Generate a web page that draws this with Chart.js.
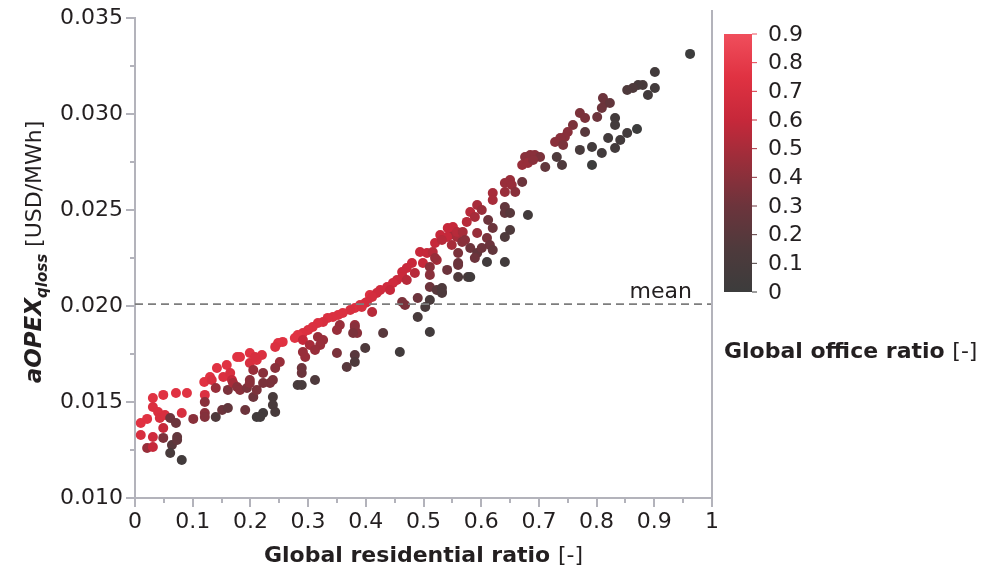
<!DOCTYPE html>
<html>
<head>
<meta charset="utf-8">
<script src="https://cdn.jsdelivr.net/npm/chart.js@4.4.1/dist/chart.umd.min.js"></script>
<style>
html,body{margin:0;padding:0;background:#fff;}
#wrap{width:986px;height:572px;}
</style>
</head>
<body>
<div id="wrap"><canvas id="myChart" width="986" height="572"></canvas></div>
<script>
// data
var residentialRatio = [
 0.010,0.010,0.021,0.021,0.031,0.031,0.031,0.031,0.040,0.043,0.049,0.049,0.052,0.049,0.061,0.064,0.061,0.071,0.071,0.073,
 0.073,0.081,0.081,0.090,0.101,0.121,0.121,0.121,0.121,0.120,0.130,0.133,0.140,0.140,0.142,0.151,0.153,0.159,0.161,0.161,
 0.165,0.168,0.170,0.177,0.182,0.177,0.182,0.191,0.194,0.199,0.199,0.199,0.205,0.211,0.211,
 0.407,0.399,0.390,0.381,0.373,0.360,0.352,0.343,0.334,0.326,0.317,0.308,0.300,0.291,0.282,0.277,0.291,0.256,0.248,0.243,
 0.220,0.208,0.317,0.326,0.321,0.303,0.312,0.291,0.295,0.251,0.243,0.239,0.234,0.222,0.222,0.211,0.205,0.289,0.289,0.282,
 0.289,0.312,0.350,0.367,0.381,0.381,0.399,0.239,0.239,0.243,0.222,0.217,0.199,0.355,0.350,0.381,0.385,
 0.529,0.546,0.558,0.567,0.520,0.494,0.506,0.516,0.523,0.499,0.480,0.471,0.463,0.485,0.464,0.454,0.471,0.447,0.437,0.425,
 0.419,0.411,0.442,0.402,0.393,0.411,0.511,0.511,0.520,0.560,0.560,0.560,0.577,0.541,0.511,0.523,0.532,0.490,0.511,0.503,
 0.468,0.463,0.490,0.511,0.430,0.459,0.381,0.378,
 0.676,0.685,0.693,0.702,0.671,0.681,0.690,0.711,0.731,0.740,0.650,0.641,0.653,0.671,0.659,0.641,0.620,0.620,0.593,0.601,
 0.581,0.589,0.575,0.641,0.641,0.650,0.681,0.612,0.620,0.650,0.641,0.542,0.551,0.541,0.558,0.568,0.532,0.549,0.572,0.593,
 0.610,0.615,0.581,0.593,0.601,0.620,0.589,0.560,0.610,0.641,0.581,0.532,0.532,
 0.962,0.901,0.901,0.889,0.880,0.872,0.863,0.853,0.811,0.815,0.823,0.809,0.801,0.771,0.780,0.832,0.832,0.759,0.750,0.745,
 0.737,0.728,0.742,0.780,0.870,0.853,0.841,0.820,0.832,0.809,0.792,0.771,0.792
];
var opexQloss = [
 0.01391,0.01328,0.01260,0.01412,0.01521,0.01474,0.01318,0.01266,0.01448,0.01417,0.01537,0.01365,0.01432,0.01313,0.01417,0.01276,0.01234,0.01547,0.01391,0.01318,
 0.01302,0.01198,0.01443,0.01547,0.01412,0.01537,0.01500,0.01443,0.01422,0.01604,0.01630,0.01615,0.01573,0.01422,0.01677,0.01458,0.01630,0.01693,0.01563,0.01469,
 0.01651,0.01615,0.01599,0.01734,0.01734,0.01578,0.01563,0.01458,0.01573,0.01755,0.01703,0.01615,0.01526,0.01422,0.01719,
 0.02057,0.02016,0.02005,0.01990,0.01979,0.01964,0.01953,0.01943,0.01938,0.01917,0.01911,0.01891,0.01875,0.01859,0.01849,0.01833,0.01823,0.01813,0.01807,0.01787,
 0.01745,0.01734,0.01839,0.01823,0.01797,0.01797,0.01771,0.01760,0.01734,0.01708,0.01677,0.01615,0.01599,0.01651,0.01599,0.01563,0.01667,0.01677,0.01651,0.01589,
 0.01589,0.01615,0.01755,0.01682,0.01745,0.01708,0.01781,0.01526,0.01484,0.01448,0.01443,0.01422,0.01599,0.01901,0.01875,0.01901,0.01859,
 0.02370,0.02370,0.02359,0.02333,0.02328,0.02281,0.02276,0.02281,0.02240,0.02224,0.02224,0.02198,0.02177,0.02172,0.02151,0.02135,0.02135,0.02120,0.02099,0.02083,
 0.02068,0.02047,0.02083,0.02021,0.01995,0.01969,0.02203,0.02162,0.02250,0.02224,0.02276,0.02151,0.02151,0.02188,0.02099,0.02083,0.02073,0.02042,0.02031,0.01995,
 0.02005,0.02021,0.01943,0.01865,0.01859,0.01760,0.01891,0.01859,
 0.02776,0.02786,0.02786,0.02776,0.02734,0.02745,0.02760,0.02724,0.02776,0.02734,0.02656,0.02641,0.02630,0.02646,0.02594,0.02594,0.02589,0.02552,0.02526,0.02500,
 0.02490,0.02464,0.02438,0.02516,0.02484,0.02484,0.02474,0.02448,0.02406,0.02396,0.02359,0.02406,0.02411,0.02359,0.02385,0.02385,0.02344,0.02318,0.02344,0.02380,
 0.02354,0.02318,0.02302,0.02276,0.02302,0.02292,0.02250,0.02214,0.02229,0.02229,0.02151,0.02094,0.02068,
 0.03313,0.03219,0.03135,0.03099,0.03151,0.03151,0.03135,0.03125,0.03083,0.03057,0.03057,0.03031,0.02984,0.03005,0.02979,0.02979,0.02943,0.02943,0.02906,0.02880,
 0.02875,0.02854,0.02839,0.02906,0.02922,0.02901,0.02865,0.02875,0.02823,0.02797,0.02828,0.02813,0.02734
];
var officeRatio = [
 0.75,0.70,0.45,0.75,0.75,0.72,0.65,0.60,0.72,0.70,0.75,0.60,0.70,0.35,0.30,0.20,0.10,0.75,0.30,0.25,
 0.25,0.05,0.70,0.75,0.40,0.72,0.40,0.40,0.38,0.75,0.75,0.70,0.45,0.15,0.75,0.30,0.72,0.75,0.35,0.25,
 0.70,0.60,0.50,0.75,0.75,0.40,0.40,0.30,0.35,0.75,0.70,0.40,0.30,0.05,0.72,
 0.72,0.72,0.70,0.72,0.70,0.72,0.72,0.72,0.72,0.70,0.72,0.72,0.72,0.72,0.75,0.75,0.60,0.75,0.75,0.72,
 0.72,0.70,0.45,0.45,0.45,0.50,0.45,0.45,0.45,0.45,0.40,0.35,0.35,0.40,0.35,0.35,0.45,0.30,0.30,0.10,
 0.10,0.15,0.35,0.20,0.20,0.15,0.15,0.10,0.10,0.10,0.05,0.05,0.40,0.45,0.45,0.45,0.40,
 0.60,0.50,0.50,0.40,0.60,0.60,0.60,0.55,0.50,0.60,0.62,0.62,0.62,0.55,0.62,0.62,0.55,0.65,0.65,0.65,
 0.65,0.68,0.60,0.68,0.70,0.55,0.40,0.40,0.45,0.30,0.35,0.15,0.10,0.30,0.30,0.20,0.20,0.30,0.10,0.10,
 0.35,0.35,0.10,0.05,0.20,0.05,0.40,0.35,
 0.40,0.40,0.40,0.35,0.45,0.45,0.40,0.25,0.15,0.15,0.45,0.45,0.45,0.30,0.40,0.45,0.50,0.50,0.50,0.45,
 0.55,0.50,0.55,0.25,0.25,0.20,0.05,0.30,0.30,0.15,0.15,0.60,0.60,0.60,0.55,0.50,0.55,0.50,0.40,0.45,
 0.35,0.30,0.30,0.25,0.30,0.25,0.30,0.30,0.05,0.05,0.05,0.15,0.15,
 0.00,0.05,0.05,0.05,0.10,0.10,0.15,0.15,0.30,0.30,0.25,0.30,0.30,0.35,0.35,0.05,0.05,0.35,0.40,0.40,
 0.40,0.40,0.35,0.20,0.00,0.05,0.05,0.05,0.05,0.05,0.05,0.10,0.00
];
var meanValue = 0.0201;
var xTicks = [0, 0.1, 0.2, 0.3, 0.4, 0.5, 0.6, 0.7, 0.8, 0.9, 1];
var xTickLabels = ['0', '0.1', '0.2', '0.3', '0.4', '0.5', '0.6', '0.7', '0.8', '0.9', '1'];
var yTicks = [0.010, 0.015, 0.020, 0.025, 0.030, 0.035];
var yTickLabels = ['0.010', '0.015', '0.020', '0.025', '0.030', '0.035'];
var colorbarTicks = [0, 0.1, 0.2, 0.3, 0.4, 0.5, 0.6, 0.7, 0.8, 0.9];
var colorbarLabels = ['0', '0.1', '0.2', '0.3', '0.4', '0.5', '0.6', '0.7', '0.8', '0.9'];

var axisGray = '#b3b3bb';
var textColor = '#231f20';
var fontFamily = "'DejaVu Sans', sans-serif";

//color ramp for the office ratio (dark gray -> red)
var colorStops = [
 [0.00, [60, 60, 60]],
 [0.15, [78, 58, 60]],
 [0.30, [108, 52, 60]],
 [0.45, [152, 46, 58]],
 [0.60, [198, 40, 58]],
 [0.75, [224, 50, 66]],
 [0.90, [240, 78, 92]]
];
function officeColor(v){
   for (var i = 1; i < colorStops.length; i++) {
      if(v <= colorStops[i][0] || i == colorStops.length - 1){
         var a = colorStops[i-1], b = colorStops[i];
         var t = Math.max(0, Math.min(1, (v - a[0]) / (b[0] - a[0])));
         var c = [0,1,2].map(function(k){ return Math.round(a[1][k] + (b[1][k] - a[1][k]) * t); });
         return 'rgb(' + c[0] + ',' + c[1] + ',' + c[2] + ')';
      }
   }
}

var points = [];
var pointColors = [];
for (var i = 0; i < residentialRatio.length; i++) {
   points.push({x: residentialRatio[i], y: opexQloss[i]});
   pointColors.push(officeColor(officeRatio[i]));
}

//draw a list of text runs with different fonts on one line
function drawRuns(ctx, runs, x, y, align){
   var total = 0;
   runs.forEach(function(r){ ctx.font = r.font; total += ctx.measureText(r.text).width; });
   var cx = x;
   if(align == 'center') cx = x - total / 2;
   if(align == 'right') cx = x - total;
   ctx.textAlign = 'left';
   ctx.textBaseline = 'alphabetic';
   runs.forEach(function(r){
      ctx.font = r.font;
      ctx.fillText(r.text, cx, y + (r.dy || 0));
      cx += ctx.measureText(r.text).width;
   });
}

var extrasPlugin = {
   id: 'extras',
   afterDraw: function(chart){
      var ctx = chart.ctx;
      var area = chart.chartArea;
      var xs = chart.scales.x, ys = chart.scales.y;
      ctx.save();
      //right frame line
      ctx.strokeStyle = axisGray;
      ctx.lineWidth = 2;
      ctx.beginPath();
      ctx.moveTo(area.right, area.top - 8);
      ctx.lineTo(area.right, area.bottom);
      ctx.stroke();
      //minor ticks halfway between the major ones
      for (var i = 0; i < xTicks.length - 1; i++) {
         var px = Math.round(xs.getPixelForValue((xTicks[i] + xTicks[i+1]) / 2));
         ctx.beginPath(); ctx.moveTo(px, area.bottom); ctx.lineTo(px, area.bottom + 5); ctx.stroke();
      }
      for (var j = 0; j < yTicks.length - 1; j++) {
         var py = Math.round(ys.getPixelForValue((yTicks[j] + yTicks[j+1]) / 2));
         ctx.beginPath(); ctx.moveTo(area.left, py); ctx.lineTo(area.left - 5, py); ctx.stroke();
      }
      ctx.fillStyle = textColor;
      //x axis title
      drawRuns(ctx, [
         {text: 'Global residential ratio ', font: 'bold 22px ' + fontFamily},
         {text: '[-]', font: '22px ' + fontFamily}
      ], (area.left + area.right) / 2, 562, 'center');
      //y axis title
      ctx.save();
      ctx.translate(41, 252);
      ctx.rotate(-Math.PI / 2);
      drawRuns(ctx, [
         {text: 'aOPEX', font: 'italic bold 23px ' + fontFamily},
         {text: 'qloss', font: 'italic bold 15px ' + fontFamily, dy: 6},
         {text: ' [USD/MWh]', font: '22px ' + fontFamily}
      ], 0, 0, 'center');
      ctx.restore();
      //mean label
      ctx.font = '22px ' + fontFamily;
      ctx.textAlign = 'right';
      ctx.textBaseline = 'alphabetic';
      ctx.fillText('mean', 692, ys.getPixelForValue(meanValue) - 6);
      //colour bar
      var barL = 724, barR = 752, barTop = 34, barBot = 292;
      var cMax = colorbarTicks[colorbarTicks.length - 1];
      var grad = ctx.createLinearGradient(0, barBot, 0, barTop);
      colorStops.forEach(function(s){ grad.addColorStop(s[0] / cMax, officeColor(s[0])); });
      ctx.fillStyle = grad;
      ctx.fillRect(barL, barTop, barR - barL, barBot - barTop);
      ctx.font = '22px ' + fontFamily;
      ctx.textAlign = 'left';
      ctx.textBaseline = 'middle';
      colorbarTicks.forEach(function(v, k){
         var py = barBot - (v / cMax) * (barBot - barTop);
         ctx.strokeStyle = officeColor(v);
         ctx.lineWidth = 1;
         ctx.beginPath(); ctx.moveTo(barR, py); ctx.lineTo(barR + 5, py); ctx.stroke();
         ctx.fillStyle = textColor;
         ctx.fillText(colorbarLabels[k], 768, py + 1);
      });
      ctx.fillStyle = textColor;
      drawRuns(ctx, [
         {text: 'Global office ratio ', font: 'bold 22px ' + fontFamily},
         {text: '[-]', font: '22px ' + fontFamily}
      ], 724, 358, 'left');
      ctx.restore();
   }
};

var ctx = document.getElementById('myChart').getContext('2d');
var chart = new Chart(ctx, {
   type: 'scatter',
   data: {
      datasets: [{
         label: 'mean',
         data: [{x: 0, y: meanValue}, {x: 1, y: meanValue}],
         showLine: true,
         borderColor: '#7d7d7d',
         borderWidth: 1.6,
         borderDash: [8, 5],
         pointRadius: 0,
         order: 0
      }, {
         label: 'aOPEX',
         data: points,
         backgroundColor: pointColors,
         borderWidth: 0,
         pointRadius: 5,
         order: 1
      }]
   },
   options: {
      responsive: false,
      animation: false,
      devicePixelRatio: 1,
      layout: {padding: {top: 18, right: 274, left: 0, bottom: 0}},
      plugins: {legend: {display: false}, tooltip: {enabled: false}},
      scales: {
         x: {
            type: 'linear', min: 0, max: 1,
            afterBuildTicks: function(s){ s.ticks = xTicks.map(function(v){ return {value: v}; }); },
            afterFit: function(s){ s.height = 74; },
            ticks: {
               autoSkip: false, maxRotation: 0, padding: 2, color: textColor,
               font: {family: fontFamily, size: 22},
               callback: function(v, i){ return xTickLabels[i]; }
            },
            grid: {drawOnChartArea: false, tickLength: 9, color: axisGray, lineWidth: 2},
            border: {color: axisGray, width: 2}
         },
         y: {
            type: 'linear', min: 0.010, max: 0.035,
            afterBuildTicks: function(s){ s.ticks = yTicks.map(function(v){ return {value: v}; }); },
            afterFit: function(s){ s.width = 135; },
            ticks: {
               autoSkip: false, padding: 3, color: textColor,
               font: {family: fontFamily, size: 22},
               callback: function(v, i){ return yTickLabels[i]; }
            },
            grid: {drawOnChartArea: false, tickLength: 9, color: axisGray, lineWidth: 2},
            border: {color: axisGray, width: 2}
         }
      }
   },
   plugins: [extrasPlugin]
});
</script>
</body>
</html>
